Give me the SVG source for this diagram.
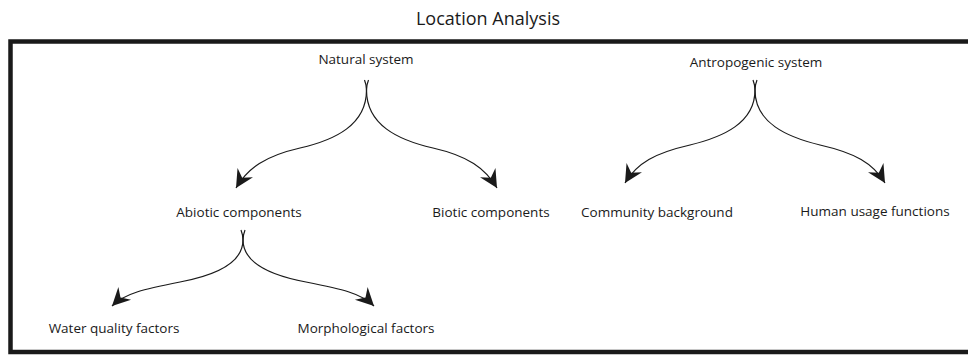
<svg xmlns="http://www.w3.org/2000/svg" width="968" height="356" viewBox="0 0 968 356">
<style>
.t{font-family:"Open Sans","Liberation Sans",sans-serif;font-size:13.5px;fill:#1a1a1a;text-anchor:middle}
.title{font-family:"Open Sans","Liberation Sans",sans-serif;font-size:18px;fill:#1a1a1a;text-anchor:middle}
.c{fill:none;stroke:#1a1a1a;stroke-width:1.2}
.a{marker-end:url(#arr)}
</style>
<defs>
<marker id="arr" markerUnits="userSpaceOnUse" viewBox="-20 -10 21 20" refX="0" refY="0" markerWidth="21" markerHeight="20" orient="auto">
<path d="M0,0 L-18,-9 L-12,0 L-18,9 Z" fill="#1a1a1a"/>
</marker>
</defs>
<rect x="10.5" y="41.5" width="980" height="310.5" fill="none" stroke="#1a1a1a" stroke-width="4.5"/>
<text class="title" x="488" y="25">Location Analysis</text>
<g id="natural"><text class="t" x="366" y="64">Natural system</text></g>
<g id="antropogenic"><text class="t" x="756" y="67">Antropogenic system</text></g>
<g id="abiotic"><text class="t" x="239" y="217">Abiotic components</text></g>
<g id="biotic"><text class="t" x="491" y="217">Biotic components</text></g>
<g id="community"><text class="t" x="657" y="217">Community background</text></g>
<g id="human"><text class="t" x="875" y="216">Human usage functions</text></g>
<g id="water"><text class="t" x="114" y="333">Water quality factors</text></g>
<g id="morph"><text class="t" x="366" y="333">Morphological factors</text></g>
<g id="connectors">
<path class="c a" d="M368.5,80 Q366.5,85 366.5,90 C366.5,125 335,140 300,148 C265,156 248,168 236,188"/>
<path class="c a" d="M364.5,80 Q366.5,85 366.5,90 C366.5,125 398,140 433,148 C468,156 485,168 497,188"/>
<path class="c a" d="M757,80 Q755,85 755,90 C755,123 723,137 690,145 C655,153 637,163 625,183"/>
<path class="c a" d="M753,80 Q755,85 755,90 C755,123 787,137 820,145 C855,153 873,163 885,183"/>
<path class="c a" d="M245,230 Q243,235 243,240 C243,265 212,276 180,282 C145,289 125,293 112,306"/>
<path class="c a" d="M241,230 Q243,235 243,240 C243,265 274,276 306,282 C341,289 361,293 374,306"/>
</g>
</svg>
